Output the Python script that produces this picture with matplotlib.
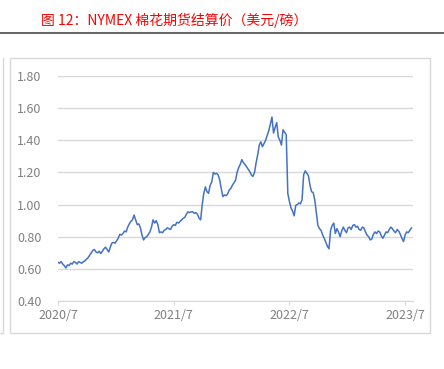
import pandas as pd
import numpy as np
import matplotlib
matplotlib.use('Agg')
import matplotlib.pyplot as plt
from matplotlib.patches import Rectangle
from matplotlib.lines import Line2D

plt.rcParams['font.family'] = ['Noto Sans CJK SC', 'DejaVu Sans']

# NYMEX cotton settlement price, USD/lb, read every ~5 days from 2020-07-01
start_date = '2020-07-01'
prices = [0.64, 0.635, 0.645, 0.63, 0.62, 0.605, 0.625, 0.62, 0.635, 0.63,
          0.645, 0.64, 0.63, 0.645, 0.64, 0.635, 0.645, 0.65, 0.66, 0.67,
          0.685, 0.70, 0.715, 0.72, 0.705, 0.70, 0.71, 0.695, 0.71, 0.725,
          0.735, 0.72, 0.705, 0.735, 0.76, 0.765, 0.76, 0.775, 0.79, 0.815,
          0.81, 0.82, 0.835, 0.83, 0.86, 0.88, 0.895, 0.905, 0.935, 0.905,
          0.875, 0.88, 0.855, 0.81, 0.78, 0.795, 0.80, 0.815, 0.83, 0.86,
          0.905, 0.885, 0.90, 0.875, 0.825, 0.83, 0.825, 0.84, 0.845, 0.855,
          0.85, 0.845, 0.865, 0.875, 0.87, 0.89, 0.885, 0.895, 0.905, 0.915,
          0.92, 0.94, 0.955, 0.95, 0.955, 0.955, 0.945, 0.95, 0.94, 0.915,
          0.905, 1.00, 1.07, 1.11, 1.08, 1.07, 1.12, 1.14, 1.20, 1.19,
          1.195, 1.185, 1.155, 1.10, 1.05, 1.06, 1.055, 1.065, 1.09, 1.10,
          1.12, 1.135, 1.15, 1.20, 1.23, 1.25, 1.28, 1.26, 1.25, 1.235,
          1.22, 1.205, 1.185, 1.175, 1.20, 1.26, 1.31, 1.37, 1.39, 1.36,
          1.38, 1.40, 1.43, 1.46, 1.50, 1.545, 1.445, 1.48, 1.51, 1.42,
          1.40, 1.37, 1.465, 1.45, 1.435, 1.07, 1.02, 0.98, 0.96, 0.93,
          0.995, 1.00, 1.01, 1.005, 1.03, 1.185, 1.21, 1.195, 1.18, 1.12,
          1.08, 1.075, 1.03, 0.95, 0.87, 0.85, 0.84, 0.81, 0.79, 0.765,
          0.74, 0.725, 0.84, 0.87, 0.885, 0.82, 0.85, 0.83, 0.80, 0.835,
          0.86, 0.84, 0.825, 0.855, 0.86, 0.845, 0.87, 0.875, 0.86, 0.865,
          0.845, 0.84, 0.86, 0.855, 0.83, 0.81, 0.80, 0.78, 0.785, 0.815,
          0.83, 0.82, 0.835, 0.83, 0.805, 0.79, 0.81, 0.83, 0.825, 0.845,
          0.86, 0.85, 0.835, 0.825, 0.845, 0.835, 0.815, 0.79, 0.77, 0.81,
          0.83, 0.825, 0.84, 0.855]
dates = pd.date_range(start_date, periods=len(prices), freq='5D')

yticks = [0.40, 0.60, 0.80, 1.00, 1.20, 1.40, 1.60, 1.80]
xtick_dates = pd.to_datetime(['2020-07-01', '2021-07-01', '2022-07-01', '2023-07-01'])
xtick_labels = ['2020/7', '2021/7', '2022/7', '2023/7']

title = '图 12：NYMEX 棉花期货结算价（美元/磅）'

W, H = 444, 369
fig = plt.figure(figsize=(W / 100, H / 100), dpi=100)

# title and rule
fig.text(41 / W, 1 - 20 / H, title, color='#ff0000', fontsize=10, va='center', ha='left')
fig.add_artist(Line2D([0, 1], [1 - 33 / H, 1 - 33 / H], color='#595959', lw=1.3))

# chart frame + neighbour's frame edge
fig.add_artist(Rectangle((10 / W, 1 - 333 / H), 420 / W, 275 / H, fill=False,
                         edgecolor='#d9d9d9', lw=1.0))
fig.add_artist(Line2D([2.5 / W, 2.5 / W], [1 - 333 / H, 1 - 58 / H], color='#d9d9d9', lw=1.0))
fig.add_artist(Line2D([0, 2.5 / W], [1 - 333 / H, 1 - 333 / H], color='#d9d9d9', lw=1.0))

ax = fig.add_axes([58 / W, 1 - 301 / H, 355 / W, 225 / H])
ax.plot(dates, prices, color='#4472c4', lw=1.1)

ax.set_ylim(0.4, 1.8)
ax.set_xlim(pd.Timestamp('2020-07-01'), pd.Timestamp('2023-07-26'))
ax.set_yticks(yticks)
ax.set_yticklabels(['%.2f' % v for v in yticks])
ax.set_xticks(xtick_dates)
ax.set_xticklabels(xtick_labels)

for s in ['top', 'right', 'left']:
    ax.spines[s].set_visible(False)
ax.spines['bottom'].set_color('#d9d9d9')
ax.grid(axis='y', color='#d9d9d9', lw=1.0)
ax.set_axisbelow(True)
ax.tick_params(axis='y', length=0, pad=12, labelsize=9, labelcolor='#808080')
ax.tick_params(axis='x', length=3, color='#d9d9d9', pad=3, labelsize=9, labelcolor='#808080')

fig.savefig('out.png', dpi=100)
